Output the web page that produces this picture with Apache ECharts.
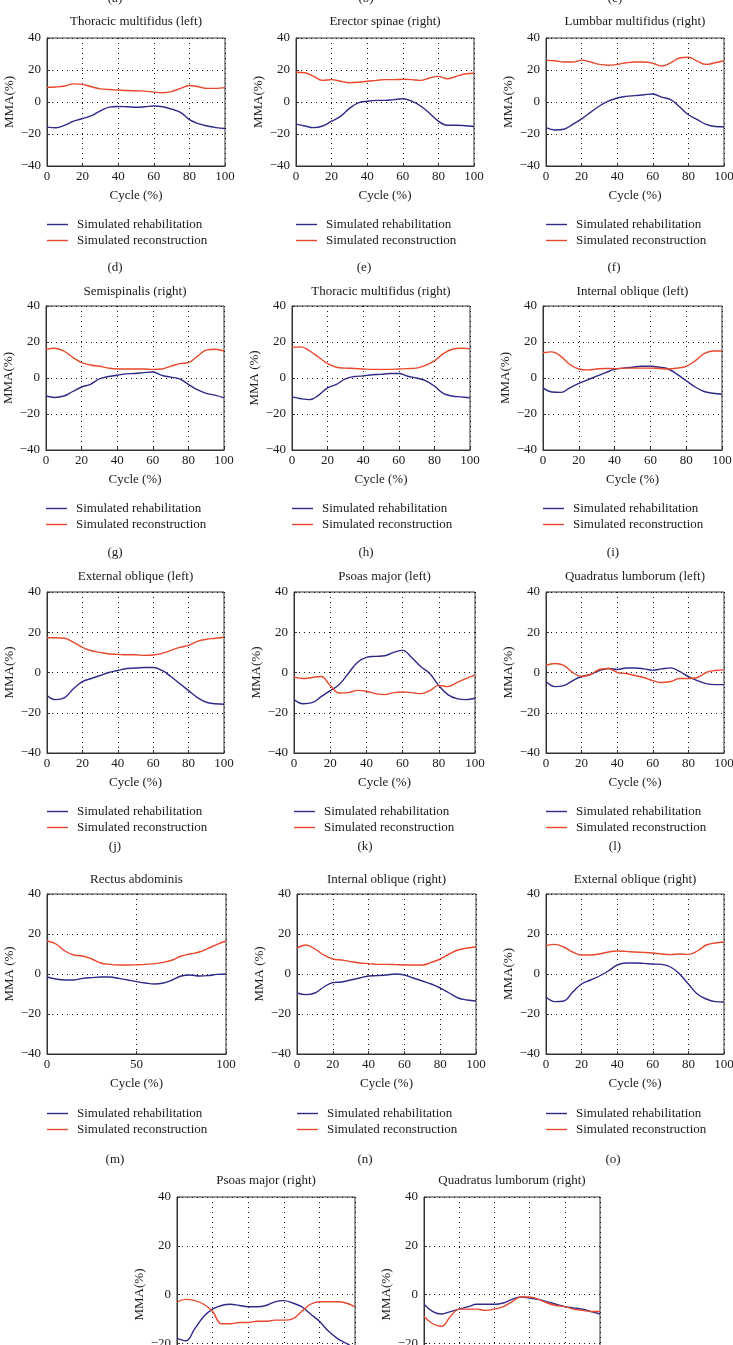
<!DOCTYPE html>
<html><head><meta charset="utf-8">
<script src="https://cdn.jsdelivr.net/npm/echarts@6/dist/echarts.min.js"></script>
<style>html,body{margin:0;padding:0;width:733px;height:1345px;overflow:hidden;background:#fff}#c{width:733px;height:1345px}</style>
</head><body><div id="c"></div><script>
// ---- data ----
const cycle = [0,5,10,15,20,25,30,35,40,45,50,55,60,65,70,75,80,85,90,95,100];
const seriesNames = ['Simulated rehabilitation','Simulated reconstruction'];
const titles = ['Thoracic multifidus (left)','Erector spinae (right)','Lumbbar multifidus (right)',
  'Semispinalis (right)','Thoracic multifidus (right)','Internal oblique (left)',
  'External oblique (left)','Psoas major (left)','Quadratus lumborum (left)',
  'Rectus abdominis','Internal oblique (right)','External oblique (right)',
  'Psoas major (right)','Quadratus lumborum (right)'];
const yNames = ['MMA(%)','MMA(%)','MMA(%)','MMA(%)','MMA (%)','MMA(%)','MMA(%)','MMA(%)','MMA(%)','MMA (%)','MMA (%)','MMA(%)','MMA(%)','MMA(%)'];
const subLabels = ['(a)','(b)','(c)','(d)','(e)','(f)','(g)','(h)','(i)','(j)','(k)','(l)','(m)','(n)','(o)'];
const xTicksDefault = 20;
const xTicksRectus = 50;

const thoracicMultifidusLeftRehab = [-15.7,-16.1,-14.5,-12,-10.3,-8.5,-5.5,-3.2,-2.8,-3,-3.3,-3,-2.5,-3,-4.5,-6.5,-11,-13.5,-15,-16,-16.6];
const thoracicMultifidusLeftRecon = [9.2,9.4,10,11.3,11,9.5,8.2,7.8,7.5,7.2,7,6.8,6.2,5.8,6.5,8.5,10.3,9.5,8.5,8.5,9];
const erectorSpinaeRightRehab = [-13.8,-15,-16,-15,-12,-9,-4,-0.5,0.5,1,1,1.5,2,0.5,-2.5,-7,-12,-14.5,-14.5,-14.8,-15.3];
const erectorSpinaeRightRecon = [18.6,18.3,16,13.5,14,13,12,12.3,13,13.5,14,14,14.2,14,13.5,15,16,14.5,16,17.5,18];
const lumbarMultifidusRightRehab = [-16,-17.5,-17,-14,-10.5,-6.5,-2.5,0.5,2.5,3.5,4,4.5,5,3,1.5,-3,-8,-11,-14,-15.3,-15.5];
const lumbarMultifidusRightRecon = [26,25.8,25,25,26.2,25,23.5,23,23.5,24.5,25,25,24.2,22.5,24.5,27.5,28,25.5,23.5,24.5,25.8];
const semispinalisRightRehab = [-10,-10.8,-10,-7.5,-5,-3.5,-0.5,0.8,1.5,2.3,2.5,3,3.3,1.5,0.5,-0.5,-3.5,-6.5,-8.5,-9.5,-11];
const semispinalisRightRecon = [15.9,16.5,15,11.5,8.5,7.2,6.5,5.5,5,5,5,5,4.8,5,6.5,8,8.5,12,15.5,16,15];
const thoracicMultifidusRightRehab = [-10.5,-11.5,-12,-9.5,-5.5,-3.5,-0.5,0.8,1.2,1.8,2,2.5,2.5,1,0,-1.5,-4.5,-8.5,-10,-10.5,-11];
const thoracicMultifidusRightRecon = [17,17.3,15,11.5,8,6,5.5,5.3,5,4.8,4.8,4.8,5,5.2,5.5,7,9.5,13.5,16,16.5,16.3];
const internalObliqueLeftRehab = [-5.5,-7.8,-8,-5.5,-3,-1,1,3,4.8,5.5,6,6.5,6.5,6,5,2,-1.5,-5,-7.5,-8.5,-9];
const internalObliqueLeftRecon = [14,14.5,12,7.5,5,4.5,5,5.3,5.2,5.5,5.5,5.5,5.5,5.3,5,5.5,6.5,9.5,13.5,15,15];
const externalObliqueLeftRehab = [-11.5,-13.5,-12.5,-8,-4.5,-3,-1.5,0,1,2,2.2,2.5,2.5,1,-2,-5.5,-9,-12.5,-14.8,-15.5,-15.8];
const externalObliqueLeftRecon = [17.3,17.3,17,15,12.5,10.8,10,9.2,9,8.8,8.8,8.5,8.7,9.5,11,12.5,13.5,15.5,16.5,17,17.5];
const psoasMajorLeftRehab = [-13.5,-15.5,-15,-12,-9,-6,-0.5,5,7.5,8,8.3,10,11,7.5,3,-0.5,-6.5,-11,-13,-13.5,-12.8];
const psoasMajorLeftRecon = [-2.3,-3,-2.5,-2,-6.5,-10.2,-10,-8.9,-9.3,-10.5,-11,-10,-9.7,-10,-10.5,-9,-6.4,-7,-5,-3,-1.3];
const quadratusLumborumLeftRehab = [-4.5,-7,-6.5,-4,-2,-1,1,2,1.5,2.2,2.2,1.8,1.2,1.8,2.3,0.5,-2,-4,-5.5,-6,-6];
const quadratusLumborumLeftRecon = [3.5,4.5,3.5,0,-2,-1,1.5,2,0,-0.5,-1.5,-2.5,-4,-5,-4.5,-3,-3,-2.5,0,1,1.3];
const rectusAbdominisRehab = [-1.5,-2.5,-3,-3,-2.2,-1.8,-1.5,-1.5,-2.2,-3,-3.8,-4.5,-5,-4.5,-3,-1,-0.5,-1,-0.8,-0.2,0];
const rectusAbdominisRecon = [16.5,15,11.5,9.5,9,7.5,5.5,4.8,4.5,4.5,4.6,4.8,5.2,5.8,7,9,10,11,12.8,14.8,16.5];
const internalObliqueRightRehab = [-9.5,-10.3,-9.5,-6.5,-4.3,-4,-3,-2,-1,-0.8,-0.5,0,-0.5,-2,-3.5,-5,-7,-9.5,-12,-13,-13.5];
const internalObliqueRightRecon = [13,14.5,12.5,9.5,7.5,7,6.2,5.5,5.2,4.8,4.8,4.7,4.5,4.5,4.5,5.8,7.5,10,12,13,13.5];
const externalObliqueRightRehab = [-11.5,-13.8,-13.5,-9,-5,-3,-1,1.5,4.5,5.5,5.5,5.3,5,4.8,3.5,0,-5,-10,-12.5,-13.8,-14];
const externalObliqueRightRecon = [14.2,14.8,13.5,11,9.5,9.5,10,11,11.5,11.3,11,10.8,10.5,10,9.7,10,9.8,11.5,14.5,15.5,16];
const psoasMajorRightRehab = [-18,-19,-14,-9,-6,-4.5,-4,-4.5,-5,-5,-4.5,-3,-2.5,-3.5,-5,-8,-11,-15,-18,-20,-22];
const psoasMajorRightRecon = [-3,-2,-2.5,-4,-7,-12,-12,-11.5,-11.5,-11,-11,-10.5,-10.5,-10,-7,-4,-3,-3,-3,-3.5,-5];
const quadratusLumborumRightRehab = [-4,-7,-8,-7,-6,-5,-4,-4,-4,-3.5,-2,-1,-1.5,-2,-3,-4,-5,-5.5,-6,-7,-8];
const quadratusLumborumRightRecon = [-9,-12,-13,-9,-6,-6,-6,-6.5,-6,-5,-3,-1,-1,-2,-3.5,-4.5,-5,-6,-6.5,-7,-7];

const rehabSets = [thoracicMultifidusLeftRehab,erectorSpinaeRightRehab,lumbarMultifidusRightRehab,semispinalisRightRehab,thoracicMultifidusRightRehab,internalObliqueLeftRehab,externalObliqueLeftRehab,psoasMajorLeftRehab,quadratusLumborumLeftRehab,rectusAbdominisRehab,internalObliqueRightRehab,externalObliqueRightRehab,psoasMajorRightRehab,quadratusLumborumRightRehab];
const reconSets = [thoracicMultifidusLeftRecon,erectorSpinaeRightRecon,lumbarMultifidusRightRecon,semispinalisRightRecon,thoracicMultifidusRightRecon,internalObliqueLeftRecon,externalObliqueLeftRecon,psoasMajorLeftRecon,quadratusLumborumLeftRecon,rectusAbdominisRecon,internalObliqueRightRecon,externalObliqueRightRecon,psoasMajorRightRecon,quadratusLumborumRightRecon];

// ---- layout (pixels) ----
const plotRects = [[47,225,38,166],[296,474,38,166],[546,724,38,166],
  [46,224,306,450],[292,470,306,450],[543,722,306,450],
  [47,224,592,753],[294,475,592,753],[546,724,592,753],
  [47,226,894,1054],[297,476,894,1054],[546,724,894,1054],
  [177,355,1197,1392],[424,600,1197,1392]];
const titleYs = [22,22,22,292,292,292,577,577,577,880,880,880,1181,1181];
const legendTops = [218,218,218,502,502,502,805,805,805,1107,1107,1107,null,null];
const subLabelPos = [[115,-1],[366,-1],[615,-1],[115,268],[364,268],[614,268],[115,553],[366,553],[613,553],[115,847],[365,847],[615,847],[115,1160],[365,1160],[613,1160]];

const FONT = '"Liberation Serif", "Times New Roman", serif';
const TXT = '#1a1a1a';
const BLUE = '#2e2b88';
const RED = '#e8482c';
const W = 733, H = 1345;

const grids = [], xAxes = [], yAxes = [], series = [], legends = [], graphics = [];
const fmtY = v => v < 0 ? '\u2212' + Math.abs(v) : String(v);

plotRects.forEach((r, i) => {
  const [l, rr, t, b] = r;
  grids.push({left: l, top: t, width: rr - l, height: b - t, show: true, borderColor: '#333', borderWidth: 1,
    backgroundColor: 'transparent', containLabel: false, outerBoundsMode: 'none'});
  const xInt = titles[i] === 'Rectus abdominis' ? xTicksRectus : xTicksDefault;
  xAxes.push({gridIndex: i, type: 'value', min: 0, max: 100, interval: xInt,
    axisLine: {show: true, onZero: false, lineStyle: {color: '#333', width: 1}},
    axisTick: {show: true, inside: true, length: 3, lineStyle: {color: '#333'}},
    splitLine: {show: true, lineStyle: {color: '#111', width: 1, type: [1, 4]}},
    axisLabel: {fontFamily: FONT, fontSize: 13, color: TXT, margin: 4},
    name: 'Cycle (%)', nameLocation: 'middle', nameGap: 23,
    nameTextStyle: {fontFamily: FONT, fontSize: 13, color: TXT}});
  yAxes.push({gridIndex: i, type: 'value', min: -40, max: 40, interval: 20,
    axisLine: {show: true, onZero: false, lineStyle: {color: '#333', width: 1}},
    axisTick: {show: true, inside: true, length: 3, lineStyle: {color: '#333'}},
    splitLine: {show: true, lineStyle: {color: '#111', width: 1, type: [1, 4]}},
    axisLabel: {fontFamily: FONT, fontSize: 13, color: TXT, margin: 6, formatter: fmtY},
    name: yNames[i], nameLocation: 'middle', nameGap: 31,
    nameTextStyle: {fontFamily: FONT, fontSize: 13, color: TXT}});
  series.push({name: seriesNames[0], type: 'line', xAxisIndex: i, yAxisIndex: i, smooth: 0.4, symbol: 'none',
    lineStyle: {color: BLUE, width: 1.4}, itemStyle: {color: BLUE}, silent: true,
    data: cycle.map((x, k) => [x, rehabSets[i][k]])});
  series.push({name: seriesNames[1], type: 'line', xAxisIndex: i, yAxisIndex: i, smooth: 0.4, symbol: 'none',
    lineStyle: {color: RED, width: 1.4}, itemStyle: {color: RED}, silent: true,
    data: cycle.map((x, k) => [x, reconSets[i][k]])});
  if (legendTops[i] !== null) {
    legends.push({left: l, top: legendTops[i], orient: 'vertical', padding: 0, itemWidth: 21, itemHeight: 14, itemGap: 3,
      selectedMode: false, data: seriesNames.map(n => ({name: n, icon: 'path://M0,0 L21,0 L21,1.4 L0,1.4 Z'})),
      textStyle: {fontFamily: FONT, fontSize: 13, color: TXT, padding: [0, 0, 0, 4]}});
  }
  graphics.push({type: 'text', x: (l + rr) / 2, y: titleYs[i],
    style: {text: titles[i], font: '13px ' + FONT, fill: TXT, textAlign: 'center', textVerticalAlign: 'middle', align: 'center', verticalAlign: 'middle'}});
});
subLabels.forEach((s, i) => {
  graphics.push({type: 'text', x: subLabelPos[i][0], y: subLabelPos[i][1],
    style: {text: s, font: '13px ' + FONT, fill: TXT, textAlign: 'center', textVerticalAlign: 'middle', align: 'center', verticalAlign: 'middle'}});
});

const chart = echarts.init(document.getElementById('c'), null, {renderer: 'canvas', width: W, height: H});
chart.setOption({animation: false, backgroundColor: '#fff', grid: grids, xAxis: xAxes, yAxis: yAxes, series: series, legend: legends, graphic: graphics});
</script></body></html>
